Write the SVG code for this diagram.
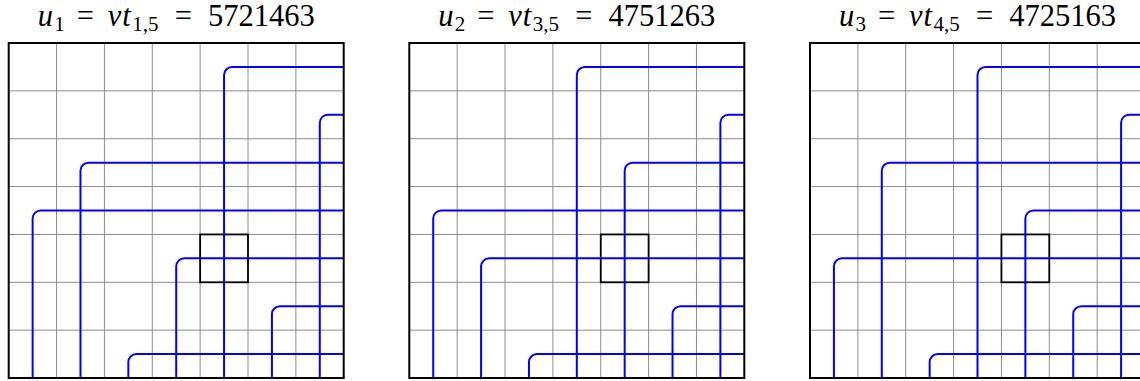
<svg xmlns="http://www.w3.org/2000/svg" width="1140" height="381" viewBox="0 0 1140 381">
<style>
.t{font-family:"Liberation Serif","DejaVu Serif",serif;font-size:30.5px;fill:#000}
.it{font-style:italic}
.sub{font-size:21px}
.grid{stroke:#8c8c8c;stroke-width:1;fill:none}
.border{stroke:#000;stroke-width:2;fill:none}
.box{stroke:#000;stroke-width:1.8;fill:none}
.pipe{stroke:#0000ff;stroke-width:2;fill:none}
</style>
<defs>
<g id="gridlines">
<rect x="0" y="0" width="335" height="335" fill="#fff"/>
<path class="grid" d="M47.86,0V335M95.72,0V335M143.58,0V335M191.44,0V335M239.3,0V335M287.16,0V335M0,47.86H335M0,95.72H335M0,143.58H335M0,191.44H335M0,239.3H335M0,287.16H335"/>
</g>
</defs>
<g id="title1" transform="translate(8.7,0)">
<text class="t"><tspan class="it" x="29" y="26">u</tspan><tspan class="sub" x="45.5" y="30.5">1</tspan><tspan x="68" y="26">=</tspan><tspan class="it" x="99" y="26">v</tspan><tspan class="it" x="113.5" y="26">t</tspan><tspan class="sub" x="123.5" y="30.5">1,5</tspan><tspan x="166" y="26">=</tspan><tspan x="199.3" y="26">5721463</tspan></text>
</g>
<g id="title2" transform="translate(409.3,0)">
<text class="t"><tspan class="it" x="29" y="26">u</tspan><tspan class="sub" x="45.5" y="30.5">2</tspan><tspan x="68" y="26">=</tspan><tspan class="it" x="99" y="26">v</tspan><tspan class="it" x="113.5" y="26">t</tspan><tspan class="sub" x="123.5" y="30.5">3,5</tspan><tspan x="166" y="26">=</tspan><tspan x="199.3" y="26">4751263</tspan></text>
</g>
<g id="title3" transform="translate(810,0)">
<text class="t"><tspan class="it" x="29" y="26">u</tspan><tspan class="sub" x="45.5" y="30.5">3</tspan><tspan x="68" y="26">=</tspan><tspan class="it" x="99" y="26">v</tspan><tspan class="it" x="113.5" y="26">t</tspan><tspan class="sub" x="123.5" y="30.5">4,5</tspan><tspan x="166" y="26">=</tspan><tspan x="199.3" y="26">4725163</tspan></text>
</g>

<g id="panel1" transform="translate(8.7,43)">
<use href="#gridlines"/>
<rect class="box" x="191.44" y="191.44" width="47.86" height="47.86"/>
<g id="pipes1" class="pipe">
<path d="M215.37,335V31.93A8,8 0 0 1 223.37,23.93H335"/>
<path d="M311.09,335V79.79A8,8 0 0 1 319.09,71.79H335"/>
<path d="M71.79,335V127.65A8,8 0 0 1 79.79,119.65H335"/>
<path d="M23.93,335V175.51A8,8 0 0 1 31.93,167.51H335"/>
<path d="M167.51,335V223.37A8,8 0 0 1 175.51,215.37H335"/>
<path d="M263.23,335V271.23A8,8 0 0 1 271.23,263.23H335"/>
<path d="M119.65,335V319.09A8,8 0 0 1 127.65,311.09H335"/>
</g>
<rect class="border" x="0" y="0" width="335" height="335"/>
</g>

<g id="panel2" transform="translate(409.3,43)">
<use href="#gridlines"/>
<rect class="box" x="191.44" y="191.44" width="47.86" height="47.86"/>
<g id="pipes2" class="pipe">
<path d="M167.51,335V31.93A8,8 0 0 1 175.51,23.93H335"/>
<path d="M311.09,335V79.79A8,8 0 0 1 319.09,71.79H335"/>
<path d="M215.37,335V127.65A8,8 0 0 1 223.37,119.65H335"/>
<path d="M23.93,335V175.51A8,8 0 0 1 31.93,167.51H335"/>
<path d="M71.79,335V223.37A8,8 0 0 1 79.79,215.37H335"/>
<path d="M263.23,335V271.23A8,8 0 0 1 271.23,263.23H335"/>
<path d="M119.65,335V319.09A8,8 0 0 1 127.65,311.09H335"/>
</g>
<rect class="border" x="0" y="0" width="335" height="335"/>
</g>

<g id="panel3" transform="translate(810,43)">
<use href="#gridlines"/>
<rect class="box" x="191.44" y="191.44" width="47.86" height="47.86"/>
<g id="pipes3" class="pipe">
<path d="M167.51,335V31.93A8,8 0 0 1 175.51,23.93H335"/>
<path d="M311.09,335V79.79A8,8 0 0 1 319.09,71.79H335"/>
<path d="M71.79,335V127.65A8,8 0 0 1 79.79,119.65H335"/>
<path d="M215.37,335V175.51A8,8 0 0 1 223.37,167.51H335"/>
<path d="M23.93,335V223.37A8,8 0 0 1 31.93,215.37H335"/>
<path d="M263.23,335V271.23A8,8 0 0 1 271.23,263.23H335"/>
<path d="M119.65,335V319.09A8,8 0 0 1 127.65,311.09H335"/>
</g>
<rect class="border" x="0" y="0" width="335" height="335"/>
</g>
</svg>
